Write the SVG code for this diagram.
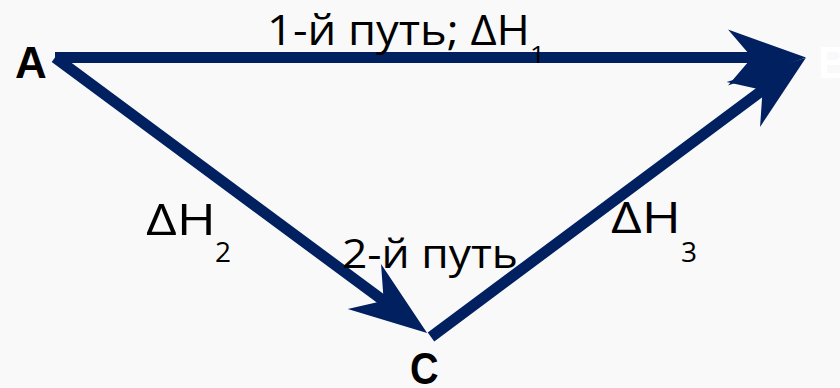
<svg xmlns="http://www.w3.org/2000/svg" width="840" height="388" viewBox="0 0 840 388">
<style>
.lbl{font-family:"Open Sans","Liberation Sans",sans-serif;fill:#000}
.pt{font-family:"Liberation Sans",Arial,sans-serif;font-weight:bold;font-size:44px}
.edge{stroke:#002060;stroke-width:11;fill:none;stroke-linecap:butt}
</style>
<defs>
<marker id="stealth" markerUnits="userSpaceOnUse" viewBox="0 0 78 56" markerWidth="78" markerHeight="56" refX="30" refY="28" orient="auto" overflow="visible">
<path d="M0,0 L78,28 L0,56 L24,28 Z" fill="#002060"/>
</marker>
</defs>
<rect width="840" height="388" fill="#f9f9f9"/>
<g id="connectors">
<line class="edge" x1="55" y1="57.5" x2="758" y2="57.5" marker-end="url(#stealth)"/>
<line class="edge" x1="55" y1="57.5" x2="388.5" y2="304.4" marker-end="url(#stealth)"/>
<line class="edge" x1="431" y1="337" x2="767.4" y2="86.5" marker-end="url(#stealth)"/>
</g>
<g id="node-A"><text class="pt" x="15" y="78" font-size="46" fill="#000">A</text></g>
<g id="node-B"><text class="pt" x="818" y="78" fill="#ffffff">B</text></g>
<g id="node-C"><text class="pt" x="410" y="384" transform="translate(410 0) scale(0.9 1) translate(-410 0)" fill="#000">C</text></g>
<g id="label-path1"><text class="lbl" x="267" y="45" font-size="42" textLength="263" lengthAdjust="spacingAndGlyphs">1-й путь; ΔH</text><text class="lbl" x="530" y="63" font-size="23" textLength="15" lengthAdjust="spacingAndGlyphs">1</text></g>
<g id="label-dH2"><text class="lbl" x="146" y="235" font-size="44" textLength="70" lengthAdjust="spacingAndGlyphs">ΔH</text><text class="lbl" x="215" y="262" font-size="28">2</text></g>
<g id="label-dH3"><text class="lbl" x="611" y="233" font-size="43" textLength="70" lengthAdjust="spacingAndGlyphs">ΔH</text><text class="lbl" x="681" y="262" font-size="28">3</text></g>
<g id="label-path2"><text class="lbl" x="342" y="268" font-size="40" textLength="176" lengthAdjust="spacingAndGlyphs">2-й путь</text></g>
</svg>
